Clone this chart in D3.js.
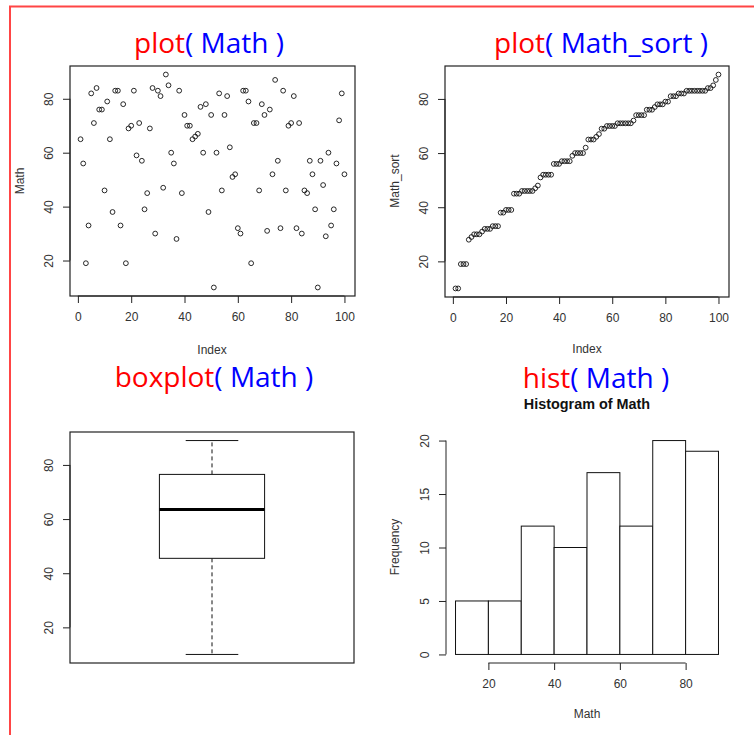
<!DOCTYPE html>
<html><head><meta charset="utf-8">
<script src="https://cdn.jsdelivr.net/npm/d3@7"></script>
<style>body{margin:0;background:#fff}svg{display:block}</style>
</head><body>
<script>
// ---- data ----
const math = [65,56,19,33,82,71,84,76,76,46,79,65,38,83,83,33,78,19,69,70,
              83,59,71,57,39,45,69,84,30,83,81,47,89,85,60,56,28,83,45,74,
              70,70,65,66,67,77,60,78,38,74,10,60,82,46,74,81,62,51,52,32,
              30,83,83,79,19,71,71,46,78,74,31,76,52,87,57,32,83,46,70,71,
              81,32,71,30,46,45,57,52,39,10,57,48,29,60,33,39,56,72,82,52];
const mathSort = math.slice().sort((a,b)=>a-b);
const indexTicks = [0,20,40,60,80,100];
const valueTicks = [20,40,60,80];
const histBreaks = [10,20,30,40,50,60,70,80,90];
const histXTicks = [20,40,60,80];
const freqTicks = [0,5,10,15,20];
const titles = [
  {fn:"plot", arg:"( Math )"},
  {fn:"plot", arg:"( Math_sort )"},
  {fn:"boxplot", arg:"( Math )"},
  {fn:"hist", arg:"( Math )"}
];

// ---- helpers ----
const W=754,H=735;
const svg=d3.select("body").append("svg").attr("width",W).attr("height",H);
const LBL="Liberation Sans, Arial, sans-serif";
const axisCol="#222", textCol="#333";

// red frame
svg.append("path").attr("d","M10,740V6.5H760").attr("fill","none")
  .attr("stroke","#ff4545").attr("stroke-width",2);

function title(t,cx,by){
  const tx=svg.append("text").attr("x",cx).attr("y",by).attr("text-anchor","middle")
    .attr("font-family","Open Sans, sans-serif").attr("font-size",28);
  tx.append("tspan").attr("fill","#ff0000").text(t.fn);
  tx.append("tspan").attr("fill","#0000ff").text(t.arg);
}
function bottomAxis(x,y0,ticks){
  const g=svg.append("g").attr("transform",`translate(0,${y0})`)
    .call(d3.axisBottom(x).tickValues(ticks).tickSize(7).tickSizeOuter(0).tickPadding(9).tickFormat(d3.format("d")));
  g.select(".domain").attr("d",`M${x(ticks[0])},0H${x(ticks[ticks.length-1])}`).attr("stroke",axisCol);
  g.selectAll(".tick line").attr("stroke",axisCol);
  g.selectAll("text").attr("font-family",LBL).attr("font-size",12).attr("fill",textCol);
  return g;
}
function leftAxis(y,x0,ticks){
  const g=svg.append("g").attr("transform",`translate(${x0},0)`)
    .call(d3.axisLeft(y).tickValues(ticks).tickSize(7).tickSizeOuter(0).tickFormat(d3.format("d")));
  g.select(".domain").attr("d",`M0,${y(ticks[0])}V${y(ticks[ticks.length-1])}`).attr("stroke",axisCol);
  g.selectAll(".tick line").attr("stroke",axisCol);
  g.selectAll("text").attr("font-family",LBL).attr("font-size",12).attr("fill",textCol)
    .attr("transform","rotate(-90)").attr("x",0).attr("y",-21).attr("dy","0.35em").attr("text-anchor","middle");
  return g;
}
function xlab(txt,cx,by){
  svg.append("text").attr("x",cx).attr("y",by).attr("text-anchor","middle")
    .attr("font-family",LBL).attr("font-size",12).attr("fill",textCol).text(txt);
}
function ylab(txt,cx,cy){
  svg.append("text").attr("transform",`translate(${cx},${cy}) rotate(-90)`).attr("text-anchor","middle")
    .attr("dy","0.35em").attr("font-family",LBL).attr("font-size",12).attr("fill",textCol).text(txt);
}
function box(x0,y0,x1,y1){
  svg.append("rect").attr("x",x0).attr("y",y0).attr("width",x1-x0).attr("height",y1-y0)
    .attr("fill","none").attr("stroke",axisCol).attr("stroke-width",1.2);
}
function ext(a,b){const d=(b-a)*0.04;return [a-d,b+d];}

// ---- panel 1: plot(Math) ----
{
  const x=d3.scaleLinear(ext(1,100),[70,355]);
  const y=d3.scaleLinear(ext(d3.min(math),d3.max(math)),[296,66]);
  title(titles[0],209,53);
  box(70,66,355,296);
  svg.append("g").selectAll("circle").data(math).join("circle")
    .attr("cx",(d,i)=>x(i+1)).attr("cy",d=>y(d)).attr("r",2.4)
    .attr("fill","none").attr("stroke","#111").attr("stroke-width",0.9);
  bottomAxis(x,296,indexTicks);
  leftAxis(y,70,valueTicks);
  xlab("Index",212,354);
  ylab("Math",20,181);
}
// ---- panel 2: plot(Math_sort) ----
{
  const x=d3.scaleLinear(ext(1,100),[445,729]);
  const y=d3.scaleLinear(ext(d3.min(mathSort),d3.max(mathSort)),[297,66]);
  title(titles[1],601,53);
  box(445,66,729,297);
  svg.append("g").selectAll("circle").data(mathSort).join("circle")
    .attr("cx",(d,i)=>x(i+1)).attr("cy",d=>y(d)).attr("r",2.4)
    .attr("fill","none").attr("stroke","#111").attr("stroke-width",0.9);
  bottomAxis(x,297,indexTicks);
  leftAxis(y,445,valueTicks);
  xlab("Index",587,353);
  ylab("Math_sort",395,181);
}
// ---- panel 3: boxplot(Math) ----
{
  const s=mathSort, n=s.length;
  const med=a=>{const m=a.length;return m%2?a[(m-1)/2]:(a[m/2-1]+a[m/2])/2;};
  const n4=Math.floor((n+3)/2)/2;
  const lo=(s[Math.floor(n4)-1]+s[Math.ceil(n4)-1])/2;
  const hi=(s[n-Math.floor(n4)]+s[n-Math.ceil(n4)])/2;
  const md=med(s), iqr=hi-lo;
  const wLo=d3.min(s.filter(v=>v>=lo-1.5*iqr)), wHi=d3.max(s.filter(v=>v<=hi+1.5*iqr));
  const x=d3.scaleLinear(ext(0.5,1.5),[70,354]);
  const y=d3.scaleLinear(ext(wLo,wHi),[663,432]);
  title(titles[2],214,387);
  box(70,432,354,663);
  const g=svg.append("g").attr("stroke","#111").attr("fill","none");
  g.append("line").attr("x1",x(1)).attr("x2",x(1)).attr("y1",y(hi)).attr("y2",y(wHi)).attr("stroke-dasharray","4,3");
  g.append("line").attr("x1",x(1)).attr("x2",x(1)).attr("y1",y(lo)).attr("y2",y(wLo)).attr("stroke-dasharray","4,3");
  g.append("line").attr("x1",x(0.9)).attr("x2",x(1.1)).attr("y1",y(wHi)).attr("y2",y(wHi));
  g.append("line").attr("x1",x(0.9)).attr("x2",x(1.1)).attr("y1",y(wLo)).attr("y2",y(wLo));
  g.append("rect").attr("x",x(0.8)).attr("y",y(hi)).attr("width",x(1.2)-x(0.8)).attr("height",y(lo)-y(hi)).attr("fill","#fff");
  g.append("line").attr("x1",x(0.8)).attr("x2",x(1.2)).attr("y1",y(md)).attr("y2",y(md)).attr("stroke-width",3).attr("stroke","#000");
  leftAxis(y,70,valueTicks);
}
// ---- panel 4: hist(Math) ----
{
  const bins=histBreaks.slice(0,-1).map((b,i)=>{
    const e=histBreaks[i+1];
    return {x0:b,x1:e,n:math.filter(v=>(i===0?v>=b:v>b)&&v<=e).length};
  });
  const x=d3.scaleLinear(ext(histBreaks[0],histBreaks[histBreaks.length-1]),[445,729]);
  const y=d3.scaleLinear(ext(0,d3.max(bins,d=>d.n)),[663,432]);
  title(titles[3],596,388);
  svg.append("text").attr("x",587).attr("y",409).attr("text-anchor","middle")
    .attr("font-family",LBL).attr("font-weight","bold").attr("font-size",14.4).attr("fill","#111").text("Histogram of Math");
  svg.append("g").selectAll("rect").data(bins).join("rect")
    .attr("x",d=>x(d.x0)).attr("y",d=>y(d.n)).attr("width",d=>x(d.x1)-x(d.x0)).attr("height",d=>y(0)-y(d.n))
    .attr("fill","#fff").attr("stroke","#111").attr("stroke-width",1);
  bottomAxis(x,663,histXTicks);
  leftAxis(y,446,freqTicks);
  xlab("Math",587,718);
  ylab("Frequency",395,547);
}
</script>
</body></html>
